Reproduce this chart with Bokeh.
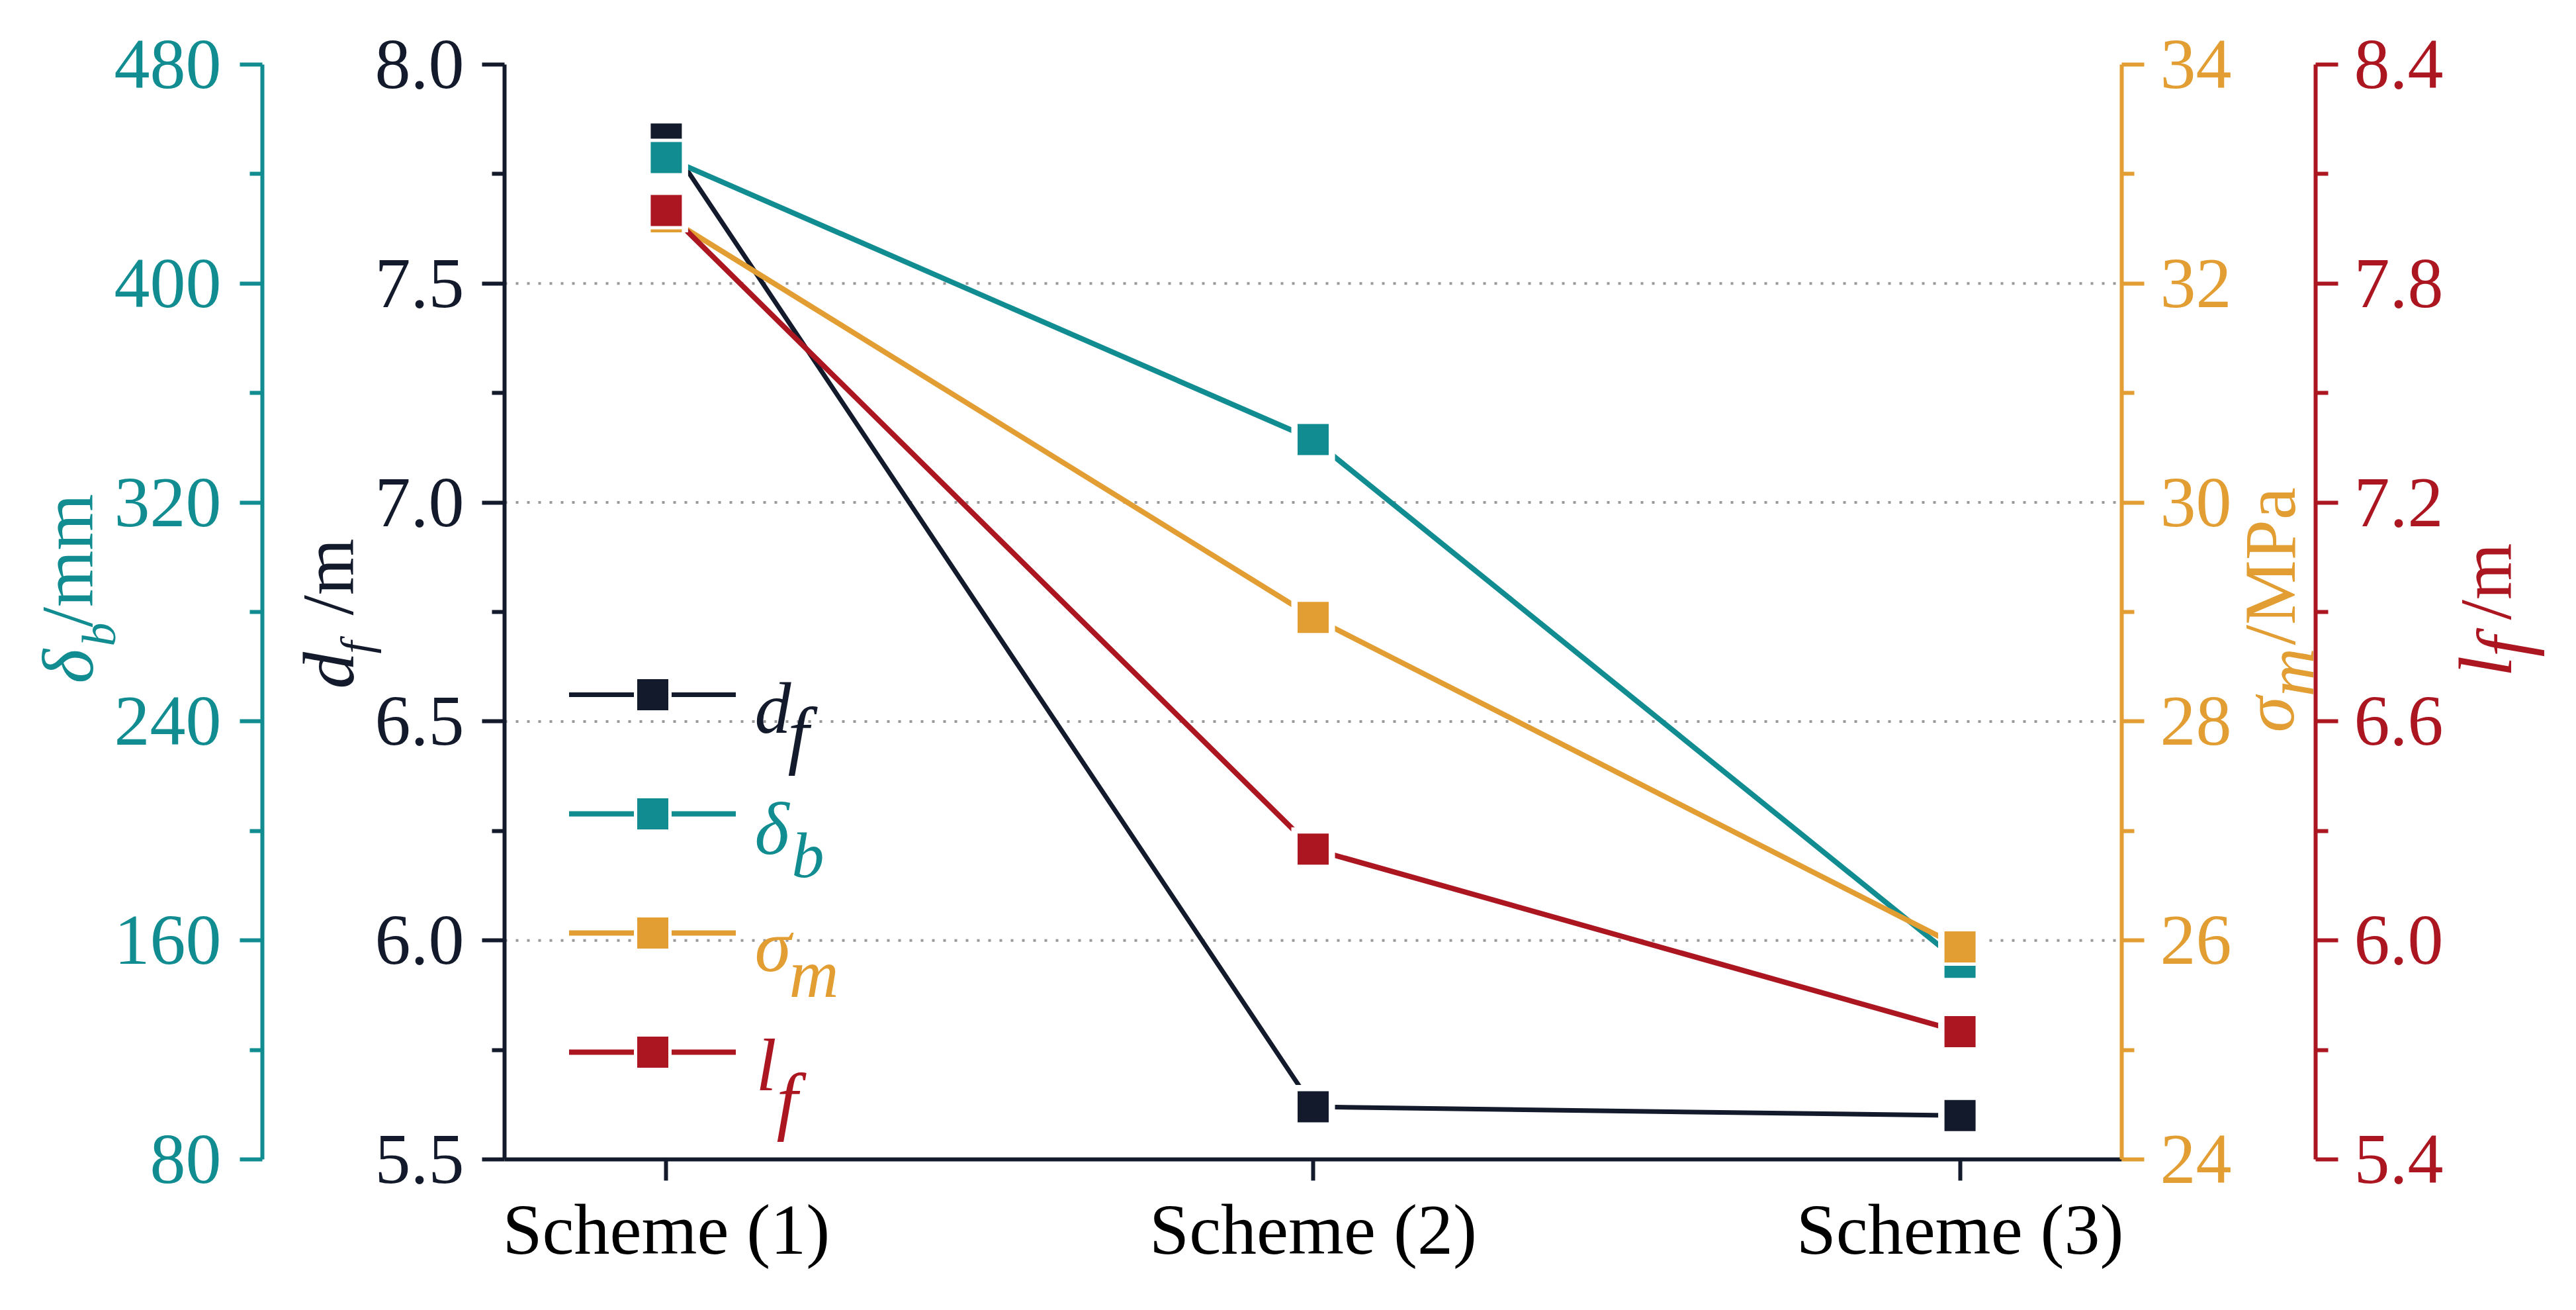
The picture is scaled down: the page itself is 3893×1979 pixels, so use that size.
import math
from bokeh.plotting import figure
from bokeh.models import (Range1d, LinearAxis, FixedTicker, NumeralTickFormatter, Label,
                          Legend, LegendItem, ColumnDataSource)
from bokeh.embed import file_html
from bokeh.resources import INLINE

# ---------------- data ----------------
schemes = ["Scheme (1)", "Scheme (2)", "Scheme (3)"]
d_f = [7.83, 5.62, 5.60]          # m      (left, black axis)
delta_b = [446, 343, 152]         # mm     (outer left, teal axis)
sigma_m = [32.61, 28.95, 25.94]   # MPa    (right, orange axis)
l_f = [8.00, 6.25, 5.75]          # m      (outer right, red axis)

df_ticks = [5.5, 6.0, 6.5, 7.0, 7.5, 8.0]
df_minor = [5.75, 6.25, 6.75, 7.25, 7.75]
db_ticks = [80, 160, 240, 320, 400, 480]
db_minor = [120, 200, 280, 360, 440]
sm_ticks = [24, 26, 28, 30, 32, 34]
sm_minor = [25, 27, 29, 31, 33]
lf_ticks = [5.4, 6.0, 6.6, 7.2, 7.8, 8.4]
lf_minor = [5.7, 6.3, 6.9, 7.5, 8.1]
grid_ticks = [6.0, 6.5, 7.0, 7.5]

C_DF = "#131A2B"
C_DB = "#118D92"
C_SM = "#E29E33"
C_LF = "#AB1621"
FONT = "Liberation Serif"

# ---------------- layout (canvas pixels) ----------------
W, H = 3877, 1963
PL, PR, PT, PB = 762, 3206, 97, 1751     # plot area
TEAL_X, RED_X = 396, 3499                # outer axis lines

xs = list(range(1, len(schemes) + 1))
X_LO, X_HI = 0.75, len(schemes) + 0.25


def frame_range(lo, hi, p_lo, p_hi, total):
    k = (hi - lo) / (p_hi - p_lo)
    return Range1d(lo - p_lo * k, hi + (total - p_hi) * k), k


x_rng, kx = frame_range(X_LO, X_HI, PL, PR, W)
y_rng, _ = frame_range(df_ticks[0], df_ticks[-1], H - PB, H - PT, H)
db_rng, _ = frame_range(db_ticks[0], db_ticks[-1], H - PB, H - PT, H)
sm_rng, _ = frame_range(sm_ticks[0], sm_ticks[-1], H - PB, H - PT, H)
lf_rng, _ = frame_range(lf_ticks[0], lf_ticks[-1], H - PB, H - PT, H)

p = figure(width=W, height=H, output_backend="svg", toolbar_location=None,
           x_range=x_rng, y_range=y_rng)
p.min_border = 0
p.min_border_left = 0
p.min_border_right = 0
p.min_border_top = 0
p.min_border_bottom = 0
p.outline_line_color = None
p.extra_y_ranges = {"db": db_rng, "sm": sm_rng, "lf": lf_rng}
p.xgrid.visible = False
p.ygrid.visible = False

AXW = 6


def style_axis(ax, color, ticks, minor, fmt, standoff, loc, bounds):
    ax.fixed_location = loc
    ax.bounds = bounds
    ax.ticker = FixedTicker(ticks=ticks, minor_ticks=minor)
    ax.formatter = NumeralTickFormatter(format=fmt)
    ax.axis_line_color = color
    ax.axis_line_width = AXW
    ax.major_tick_line_color = color
    ax.major_tick_line_width = AXW
    ax.minor_tick_line_color = color
    ax.minor_tick_line_width = AXW
    ax.major_tick_in = 0
    ax.major_tick_out = 34
    ax.minor_tick_in = 0
    ax.minor_tick_out = 19
    ax.major_label_text_color = color
    ax.major_label_text_font = FONT
    ax.major_label_text_font_size = "108px"
    ax.major_label_standoff = standoff


ax_df = p.left[0]
style_axis(ax_df, C_DF, df_ticks, df_minor, "0.0", 27, X_LO, (df_ticks[0], df_ticks[-1]))

ax_db = LinearAxis(y_range_name="db")
style_axis(ax_db, C_DB, db_ticks, db_minor, "0", 28, x_rng.start + TEAL_X * kx,
           (db_ticks[0], db_ticks[-1]))
p.add_layout(ax_db, "left")

ax_sm = LinearAxis(y_range_name="sm")
style_axis(ax_sm, C_SM, sm_ticks, sm_minor, "0", 24, X_HI, (sm_ticks[0], sm_ticks[-1]))
p.add_layout(ax_sm, "right")

ax_lf = LinearAxis(y_range_name="lf")
style_axis(ax_lf, C_LF, lf_ticks, lf_minor, "0.0", 24, x_rng.start + RED_X * kx,
           (lf_ticks[0], lf_ticks[-1]))
p.add_layout(ax_lf, "right")

xa = p.below[0]
xa.fixed_location = df_ticks[0]
xa.bounds = (X_LO, X_HI)
xa.ticker = FixedTicker(ticks=xs)
xa.major_label_overrides = {x: s for x, s in zip(xs, schemes)}
xa.axis_line_color = C_DF
xa.axis_line_width = AXW
xa.major_tick_line_color = C_DF
xa.major_tick_line_width = AXW
xa.major_tick_in = 0
xa.major_tick_out = 32
xa.minor_tick_line_color = None
xa.major_label_text_color = "black"
xa.major_label_text_font = FONT
xa.major_label_text_font_size = "108px"
xa.major_label_standoff = 14

# dotted horizontal grid lines across the plot area
p.segment(x0=[X_LO] * len(grid_ticks), x1=[X_HI] * len(grid_ticks), y0=grid_ticks, y1=grid_ticks,
          line_color="#9A9A9A", line_width=4, line_dash="4 13")

src = ColumnDataSource(dict(x=xs, d_f=d_f, delta_b=delta_b, sigma_m=sigma_m, l_f=l_f))
series = [("d_f", C_DF, "default", 7),
          ("delta_b", C_DB, "db", 8),
          ("sigma_m", C_SM, "sm", 8),
          ("l_f", C_LF, "lf", 8)]
lines = []
for col, c, rng, lw in series:
    lines.append(p.line("x", col, source=src, y_range_name=rng, line_color=c,
                        line_width=lw, line_cap="round"))
    # white gap around the symbols of this series
    p.scatter("x", col, source=src, y_range_name=rng, marker="square", size=66,
              fill_color="white", line_color=None)
marks = []
for col, c, rng, lw in series:
    marks.append(p.scatter("x", col, source=src, y_range_name=rng, marker="square", size=52,
                           fill_color=c, line_color="white", line_width=5))

legend = Legend(items=[LegendItem(label=" ", renderers=[l, m]) for l, m in zip(lines, marks)],
                location=(860, H - 1654), glyph_width=252, glyph_height=130, spacing=50,
                padding=0, margin=0, border_line_color=None, background_fill_alpha=0,
                label_text_font_size="10px", label_height=10, label_standoff=0, label_width=10)
p.add_layout(legend)

SHIFT = 0.21   # Bokeh places "alphabetic" text this fraction of an em below the anchor


def add_text(txt, cx, cy, size, color, italic=False, rotated=False):
    """cx, cy: canvas pixel position of the text's baseline start."""
    if rotated:
        cx -= SHIFT * size
    else:
        cy -= SHIFT * size
    p.add_layout(Label(x=cx, y=H - cy, x_units="screen", y_units="screen", text=txt,
                       text_font=FONT, text_font_size=f"{size}px",
                       text_font_style="italic" if italic else "normal",
                       text_color=color, text_align="left", text_baseline="alphabetic",
                       angle=math.pi / 2 if rotated else 0.0))


# axis titles (rotated, reading bottom to top)
add_text("δ", 125, 1032, 111, C_DB, True, True)
add_text("b", 165, 976, 72, C_DB, True, True)
add_text("/mm", 125, 947, 110, C_DB, False, True)

add_text("d", 519, 1040, 111, C_DF, True, True)
add_text("f", 553, 987, 68, C_DF, True, True)
add_text("/m", 519, 929, 110, C_DF, False, True)

add_text("σ", 3452, 1106, 110, C_SM, True, True)
add_text("m", 3482, 1052, 102, C_SM, True, True)
add_text("/MPa", 3454, 974, 110, C_SM, False, True)

add_text("l", 3780, 1022, 114, C_LF, True, True)
add_text("f", 3806, 992, 112, C_LF, True, True)
add_text("/m", 3780, 936, 110, C_LF, False, True)

# legend texts
add_text("d", 1140, 1093, 110, C_DF, True)
add_text("f", 1190, 1133, 115, C_DF, True)
add_text("δ", 1140, 1275, 112, C_DB, True)
add_text("b", 1196, 1312, 98, C_DB, True)
add_text("σ", 1140, 1452, 112, C_SM, True)
add_text("m", 1192, 1492, 104, C_SM, True)
add_text("l", 1142, 1632, 112, C_LF, True)
add_text("f", 1173, 1686, 115, C_LF, True)

open("out.html", "w").write(file_html(p, INLINE))
